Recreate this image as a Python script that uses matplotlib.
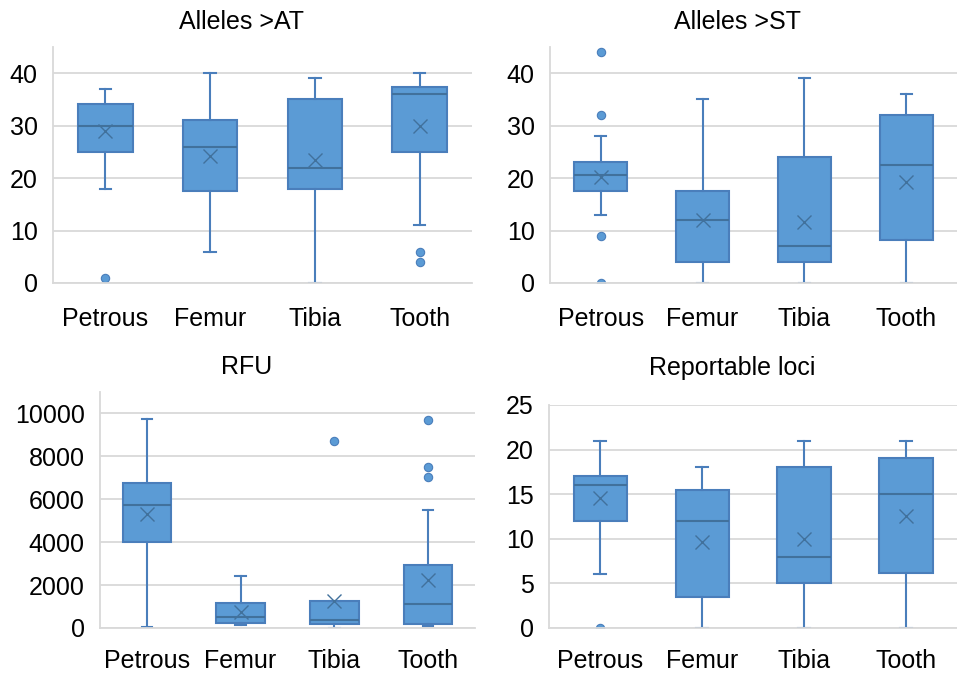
import matplotlib
matplotlib.use('Agg')
import matplotlib.pyplot as plt

plt.rcParams['font.family'] = ['Liberation Sans', 'DejaVu Sans']

CATS = ['Petrous', 'Femur', 'Tibia', 'Tooth']

# per panel: whisker low, q1, median, q3, whisker high, mean, outliers
AT_LO = [18, 6, 0, 11]
AT_Q1 = [25, 17.5, 18, 25]
AT_MED = [30, 26, 22, 36]
AT_Q3 = [34.2, 31, 35, 37.3]
AT_HI = [37, 40, 39, 40]
AT_MEAN = [29, 24.3, 23.5, 30]
AT_OUT = [[1], [], [], [6, 4]]

ST_LO = [13, 0, 0, 0]
ST_Q1 = [17.5, 4, 4, 8.2]
ST_MED = [20.5, 12, 7, 22.5]
ST_Q3 = [23, 17.5, 24, 32]
ST_HI = [28, 35, 39, 36]
ST_MEAN = [20.3, 12, 11.6, 19.3]
ST_OUT = [[44, 32, 9, 0], [], [], []]

RFU_LO = [50, 150, 0, 100]
RFU_Q1 = [4000, 230, 200, 200]
RFU_MED = [5750, 500, 350, 1100]
RFU_Q3 = [6750, 1150, 1250, 2950]
RFU_HI = [9750, 2400, 1250, 5500]
RFU_MEAN = [5300, 750, 1250, 2250]
RFU_OUT = [[], [], [8700], [9700, 7500, 7050]]

LOCI_LO = [6, 0, 0, 0]
LOCI_Q1 = [12, 3.5, 5, 6.2]
LOCI_MED = [16, 12, 8, 15]
LOCI_Q3 = [17, 15.5, 18, 19]
LOCI_HI = [21, 18, 21, 21]
LOCI_MEAN = [14.6, 9.6, 10, 12.6]
LOCI_OUT = [[0], [], [], []]

FILL = '#5B9BD5'
EDGE = '#4A7EBB'
DARK = '#41719C'
GRID = '#D9D9D9'


def stats(lo, q1, med, q3, hi, mean, out):
    return [dict(whislo=a, q1=b, med=c, q3=d, whishi=e, mean=f, fliers=g, label=n)
            for a, b, c, d, e, f, g, n in zip(lo, q1, med, q3, hi, mean, out, CATS)]


PANELS = [
    ('Alleles >AT', stats(AT_LO, AT_Q1, AT_MED, AT_Q3, AT_HI, AT_MEAN, AT_OUT),
     [0.0554, 0.5795, 0.4378, 0.3507], (0, 45), [0, 10, 20, 30, 40], (0.252, 0.967), 17),
    ('Alleles >ST', stats(ST_LO, ST_Q1, ST_MED, ST_Q3, ST_HI, ST_MEAN, ST_OUT),
     [0.5747, 0.5795, 0.4253, 0.3507], (0, 45), [0, 10, 20, 30, 40], (0.771, 0.967), 17),
    ('RFU', stats(RFU_LO, RFU_Q1, RFU_MED, RFU_Q3, RFU_HI, RFU_MEAN, RFU_OUT),
     [0.1045, 0.0669, 0.3918, 0.3507], (0, 11000), [0, 2000, 4000, 6000, 8000, 10000], (0.258, 0.455), 15),
    ('Reportable loci', stats(LOCI_LO, LOCI_Q1, LOCI_MED, LOCI_Q3, LOCI_HI, LOCI_MEAN, LOCI_OUT),
     [0.5737, 0.0669, 0.4263, 0.3314], (0, 25), [0, 5, 10, 15, 20, 25], (0.765, 0.453), 15),
]

fig = plt.figure(figsize=(9.57, 6.73), dpi=100)
for title, st, rect, ylim, yticks, tpos, xpad in PANELS:
    ax = fig.add_axes(rect)
    ax.bxp(st, positions=[1, 2, 3, 4], widths=0.52, capwidths=0.11,
           patch_artist=True, showmeans=True,
           boxprops=dict(facecolor=FILL, edgecolor=EDGE, linewidth=1.5),
           medianprops=dict(color=DARK, linewidth=1.5),
           whiskerprops=dict(color=EDGE, linewidth=1.5),
           capprops=dict(color=EDGE, linewidth=1.5),
           meanprops=dict(marker='x', markeredgecolor=DARK, markersize=10,
                          markeredgewidth=1.0),
           flierprops=dict(marker='o', markerfacecolor=FILL, markeredgecolor=EDGE,
                           markersize=6, markeredgewidth=0.8))
    ax.set_xlim(0.5, 4.5)
    ax.set_ylim(*ylim)
    ax.set_yticks(yticks)
    ax.set_xticks([1, 2, 3, 4], CATS)
    ax.yaxis.grid(True, color=GRID, linewidth=1.3)
    ax.set_axisbelow(True)
    for s in ['top', 'right']:
        ax.spines[s].set_visible(False)
    for s in ['left', 'bottom']:
        ax.spines[s].set_color(GRID)
        ax.spines[s].set_linewidth(1.3)
    ax.tick_params(axis='both', length=0, labelsize=18, colors='black')
    ax.tick_params(axis='x', pad=xpad)
    ax.tick_params(axis='y', pad=11)
    fig.text(tpos[0], tpos[1], title, ha='center', va='center', fontsize=18)

fig.savefig('out.png', dpi=100)
